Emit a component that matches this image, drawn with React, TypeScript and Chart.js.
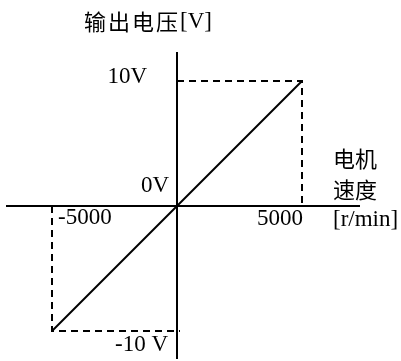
import React, { useEffect, useRef } from 'react';
import { Chart, registerables } from 'chart.js';

Chart.register(...registerables);

// ---- data ----
const SPEED = [-5000, 5000]; // r/min
const VOLTAGE = [-10, 10]; // V
const X_TICK_VALUES = [-5000, 5000];
const X_TICK_LABELS = ['-5000', '5000'];
const Y_TICK_VALUES = [10, 0, -10];
const Y_TICK_LABELS = ['10V', '0V', '-10 V'];
const X_TITLE_LINES = ['电机', '速度', '[r/min]'];
const Y_TITLE_CJK = '输出电压';
const Y_TITLE_UNIT = '[V]';
const X_LIMITS = [-6800, 7280];
const Y_LIMITS = [-12.16, 12.24];
const GUIDE_OVERSHOOT = 120;

const LATIN = '"Liberation Serif", "Times New Roman", serif';
const CJK = '"Noto Sans CJK SC", "Noto Sans CJK JP", sans-serif';

const labelsPlugin = {
  id: 'manualLabels',
  afterDraw(chart: any) {
    const { ctx, scales, chartArea } = chart;
    const xs = scales.x;
    const ys = scales.y;
    const x0 = xs.getPixelForValue(0);
    const y0 = ys.getPixelForValue(0);
    ctx.save();
    ctx.fillStyle = '#000';

    // y tick labels
    ctx.font = `23px ${LATIN}`;
    ctx.textAlign = 'right';
    ctx.textBaseline = 'alphabetic';
    Y_TICK_VALUES.forEach((v, i) => {
      const py = ys.getPixelForValue(v);
      let dx = -30;
      let dy = 2;
      if (v === 0) {
        dx = -8;
        dy = -14;
      } else if (v < 0) {
        dx = -9;
        dy = 20;
      }
      ctx.fillText(Y_TICK_LABELS[i], x0 + dx, py + dy);
    });

    // x tick labels
    X_TICK_VALUES.forEach((v, i) => {
      const px = xs.getPixelForValue(v);
      if (v < 0) {
        ctx.textAlign = 'left';
        ctx.fillText(X_TICK_LABELS[i], px + 6, y0 + 18);
      } else {
        ctx.textAlign = 'right';
        ctx.fillText(X_TICK_LABELS[i], px + 1, y0 + 19);
      }
    });

    // x axis title (three lines, right of the plot)
    const tx = chartArea.right - 26;
    ctx.textAlign = 'left';
    ctx.font = `22px ${CJK}`;
    ctx.textBaseline = 'middle';
    ctx.fillText(X_TITLE_LINES[0], tx, y0 - 47);
    ctx.fillText(X_TITLE_LINES[1], tx, y0 - 16.5);
    ctx.font = `23px ${LATIN}`;
    ctx.textBaseline = 'alphabetic';
    ctx.fillText(X_TITLE_LINES[2], tx, y0 + 20);

    // y axis title (above the plot)
    const titleX = 84;
    const titleY = chartArea.top - 31.5;
    ctx.font = `22px ${CJK}`;
    ctx.textBaseline = 'middle';
    (ctx as any).letterSpacing = '2px';
    ctx.fillText(Y_TITLE_CJK, titleX, titleY);
    const w = ctx.measureText(Y_TITLE_CJK).width;
    (ctx as any).letterSpacing = '0px';
    ctx.font = `23px ${LATIN}`;
    ctx.fillText(Y_TITLE_UNIT, titleX + w, titleY);

    ctx.restore();
  },
};

export default function App() {
  const ref = useRef<HTMLCanvasElement>(null);

  useEffect(() => {
    const canvas = ref.current!;
    const lineBase = {
      showLine: true,
      borderColor: '#000',
      backgroundColor: '#000',
      pointRadius: 0,
      clip: false as any,
      fill: false,
    };
    const chart = new Chart(canvas, {
      type: 'scatter',
      data: {
        datasets: [
          {
            ...lineBase,
            data: SPEED.map((s, i) => ({ x: s, y: VOLTAGE[i] })),
            borderWidth: 2,
          },
          {
            ...lineBase,
            data: [
              { x: 0, y: VOLTAGE[1] },
              { x: SPEED[1], y: VOLTAGE[1] },
              { x: SPEED[1], y: 0 },
            ],
            borderWidth: 2,
            borderDash: [7, 5],
          },
          {
            ...lineBase,
            data: [
              { x: SPEED[0], y: 0 },
              { x: SPEED[0], y: VOLTAGE[0] },
              { x: GUIDE_OVERSHOOT, y: VOLTAGE[0] },
            ],
            borderWidth: 2,
            borderDash: [7, 5],
          },
        ],
      },
      options: {
        animation: false,
        responsive: false,
        devicePixelRatio: 1,
        events: [],
        layout: { padding: { left: 7, right: 42, top: 53, bottom: 3 } },
        plugins: { legend: { display: false }, tooltip: { enabled: false } },
        scales: {
          x: {
            type: 'linear',
            min: X_LIMITS[0],
            max: X_LIMITS[1],
            position: { y: 0 } as any,
            grid: { display: false, drawTicks: false },
            ticks: { display: false },
            border: { display: true, color: '#000', width: 2 },
          },
          y: {
            type: 'linear',
            min: Y_LIMITS[0],
            max: Y_LIMITS[1],
            position: { x: 0 } as any,
            grid: { display: false, drawTicks: false },
            ticks: { display: false },
            border: { display: true, color: '#000', width: 2 },
          },
        },
      },
      plugins: [labelsPlugin],
    });
    return () => chart.destroy();
  }, []);

  return (
    <div style={{ position: 'absolute', left: 0, top: 0, width: 401, height: 361, background: '#fff' }}>
      <canvas ref={ref} width={401} height={361} style={{ display: 'block', width: 401, height: 361 }} />
    </div>
  );
}
